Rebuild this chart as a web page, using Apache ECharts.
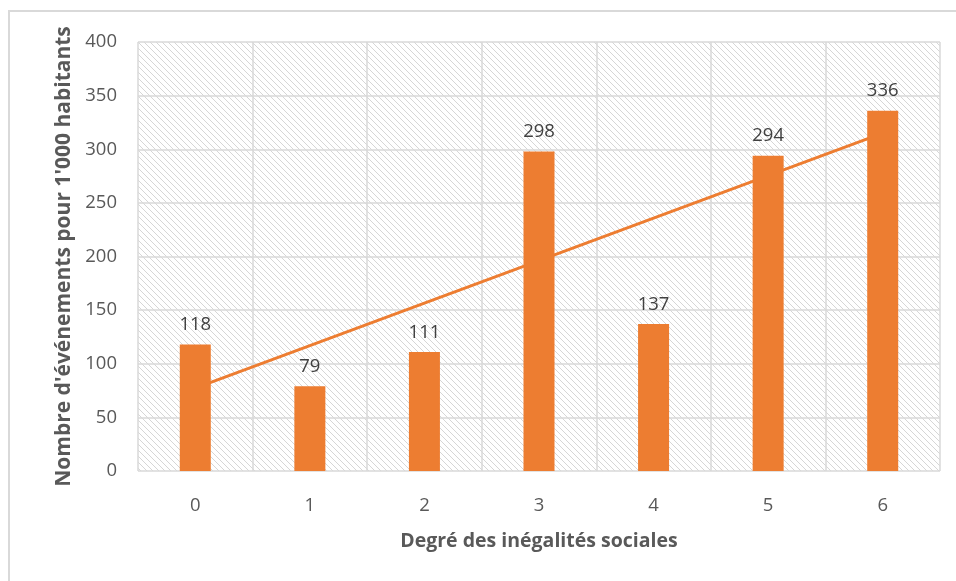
<!DOCTYPE html>
<html lang="fr" style="width: 100%; height: 100%">
<head>
  <meta charset="utf-8">
</head>
<body style="width: 100%; height: 100%; margin: 0; background: #fff">
  <div id="container" style="width: 956px; height: 581px"></div>

  <script type="text/javascript" src="https://cdn.jsdelivr.net/npm/echarts@6/dist/echarts.min.js"></script>
  <script type="text/javascript">

var categories = ['0', '1', '2', '3', '4', '5', '6'];
var values = [118, 79, 111, 298, 137, 294, 336];
var yTitle = "Nombre d'événements pour 1'000 habitants";
var xTitle = 'Degré des inégalités sociales';

// linear trend (least squares) over the category index, like Excel's trendline
var n = values.length;
var mx = 0, my = 0;
for (var i = 0; i < n; i++) { mx += i; my += values[i]; }
mx /= n; my /= n;
var sxy = 0, sxx = 0;
for (var i = 0; i < n; i++) {
  sxy += (i - mx) * (values[i] - my);
  sxx += (i - mx) * (i - mx);
}
var slope = sxy / sxx;
var trend = [];
for (var i = 0; i < n; i++) {
  trend.push(my + slope * (i - mx));
}

// hatched background of the plot area
var tile = document.createElement('canvas');
tile.width = 6;
tile.height = 6;
var ctx = tile.getContext('2d');
ctx.fillStyle = '#fff';
ctx.fillRect(0, 0, 6, 6);
ctx.fillStyle = '#d6d6d6';
for (var k = 0; k < 6; k++) {
  ctx.fillRect(k, k, 1, 1);
}

var dom = document.getElementById('container');
var myChart = echarts.init(dom, null, { renderer: 'canvas' });

var font = '"Open Sans", sans-serif';

var option = {
  animation: false,
  textStyle: { fontFamily: font },
  graphic: [{
    type: 'rect',
    shape: { x: 9, y: 11, width: 1000, height: 1000 },
    style: { fill: 'none', stroke: '#d9d9d9', lineWidth: 2 },
    silent: true
  }],
  grid: {
    show: true,
    left: 138,
    right: 16,
    top: 42,
    bottom: 110,
    borderWidth: 0,
    backgroundColor: { image: tile, repeat: 'repeat' }
  },
  xAxis: {
    type: 'category',
    data: categories,
    name: xTitle,
    nameLocation: 'middle',
    nameGap: 60,
    nameTextStyle: { color: '#595959', fontSize: 19.5, fontWeight: 'bold', fontFamily: font },
    axisLine: { show: false },
    axisTick: { show: false },
    axisLabel: { color: '#595959', fontSize: 18.5, margin: 25, fontFamily: font },
    splitLine: { show: true, interval: 0, lineStyle: { color: '#d9d9d9', width: 1.5 } }
  },
  yAxis: {
    type: 'value',
    min: 0,
    max: 400,
    interval: 50,
    name: yTitle,
    nameLocation: 'middle',
    nameGap: 62,
    nameTextStyle: { color: '#595959', fontSize: 21, fontWeight: 'bold', fontFamily: font },
    axisLine: { show: false },
    axisTick: { show: false },
    axisLabel: { color: '#595959', fontSize: 18.5, margin: 21, fontFamily: font },
    splitLine: { show: true, lineStyle: { color: '#d9d9d9', width: 1.5 } }
  },
  series: [
    {
      name: 'Tendance',
      type: 'line',
      data: trend,
      showSymbol: false,
      z: 1,
      lineStyle: { color: '#ED7D31', width: 3 },
      itemStyle: { color: '#ED7D31' }
    },
    {
      name: 'Valeurs',
      type: 'bar',
      data: values,
      barWidth: 31,
      z: 2,
      itemStyle: { color: '#ED7D31' },
      label: {
        show: true,
        position: 'top',
        distance: 10,
        color: '#404040',
        fontSize: 18.5,
        fontFamily: font
      }
    }
  ]
};

myChart.setOption(option);
window.addEventListener('resize', myChart.resize);

  </script>
</body>
</html>
